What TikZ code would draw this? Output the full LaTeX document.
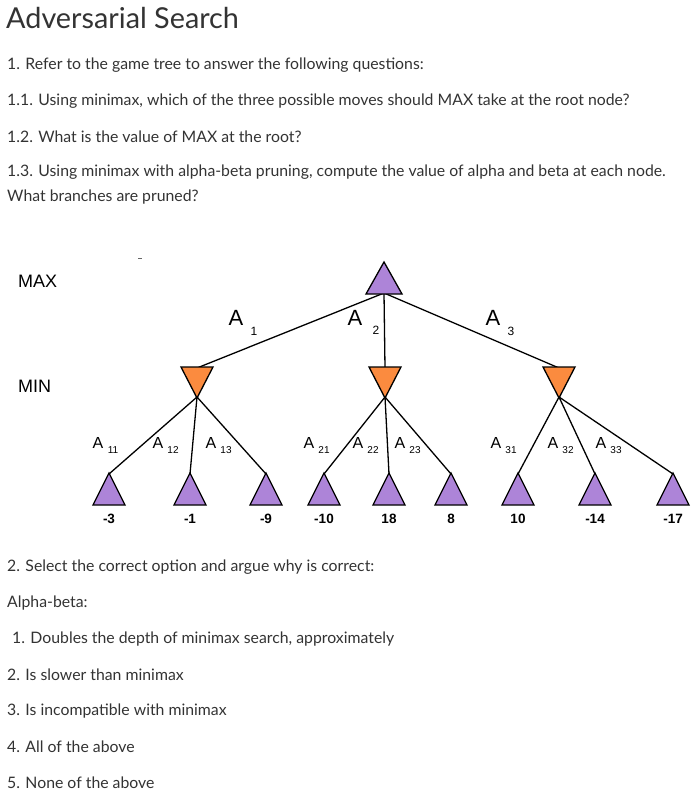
\documentclass[tikz,border=0pt]{standalone}
\usepackage{fontspec}
\setmainfont{Lato}
\newfontfamily\arialf{Liberation Sans}
\begin{document}
\begin{tikzpicture}[x=1pt,y=-1pt,
  txt/.style={anchor=west,inner sep=0,font=\fontsize{15.8}{15.8}\selectfont,text=black!80},
  lab/.style={inner sep=0,font=\arialf\fontsize{22}{22}\selectfont},
  sub/.style={inner sep=0,font=\arialf\fontsize{12}{12}\selectfont},
  val/.style={inner sep=0,font=\arialf\bfseries\fontsize{13.5}{13.5}\selectfont},
  edge/.style={line width=1.3pt}]
\definecolor{purp}{HTML}{AD84D8}
\definecolor{oran}{HTML}{FB8B3F}
\useasboundingbox (0,0) rectangle (698,797);
\node[anchor=west,inner sep=0,font=\fontsize{28.8}{28.8}\selectfont,text=black!80] (title) at (6,18) {Adversarial Search};
\node[txt] (q1) at (7,65) {1. Refer to the game tree to answer the following questions:};
\node[txt] (q11) at (7,101) {1.1. Using minimax, which of the three possible moves should MAX take at the root node?};
\node[txt] (q12) at (7,137) {1.2. What is the value of MAX at the root?};
\node[txt] (q13) at (7,172) {1.3. Using minimax with alpha-beta pruning, compute the value of alpha and beta at each node.};
\node[txt] (q13b) at (7,197) {What branches are pruned?};
\node[txt] (q2) at (7,567) {2. Select the correct option and argue why is correct:};
\node[txt] (ab) at (7,603) {Alpha-beta:};
\node[txt] (o1) at (12,639) {1. Doubles the depth of minimax search, approximately};
\node[txt] (o2) at (7,675) {2. Is slower than minimax};
\node[txt] (o3) at (7,711) {3. Is incompatible with minimax};
\node[txt] (o4) at (7,747) {4. All of the above};
\node[txt] (o5) at (7,783) {5. None of the above};
% tree
\draw[line width=0.6pt,black!60] (138,258) -- (142,258);
\node[anchor=west,inner sep=0,font=\arialf\fontsize{18}{18}\selectfont] (max) at (18,281) {MAX};
\node[anchor=west,inner sep=0,font=\arialf\fontsize{18}{18}\selectfont] (min) at (18,386) {MIN};
\coordinate (r) at (384,293);
\foreach \n/\x in {1/197,2/385,3/559}{
  \coordinate (m\n) at (\x,368);
  \coordinate (ma\n) at (\x,397);
}
\foreach \n/\x in {11/109,12/190,13/266,21/324,22/389,23/451,31/518,32/595,33/673}{
  \coordinate (l\n) at (\x,474);
}
\foreach \n in {1,2,3}{\draw[edge] (r) -- (m\n);}
\foreach \n/\a in {11/1,12/1,13/1,21/2,22/2,23/2,31/3,32/3,33/3}{\draw[edge] (ma\a) -- (l\n);}
\filldraw[fill=purp,draw=black,line width=1.3pt] (384,262) -- (402,294) -- (366,294) -- cycle;
\foreach \n/\x in {1/197,2/385,3/559}{
  \filldraw[fill=oran,draw=black,line width=1.3pt] (\x-16,367) -- (\x+16,367) -- (\x,398) -- cycle;
}
\foreach \n/\x/\v in {11/109/-3,12/190/-1,13/266/-9,21/324/-10,22/389/18,23/451/8,31/518/10,32/595/-14,33/673/-17}{
  \filldraw[fill=purp,draw=black,line width=1.3pt] (\x,473) -- (\x+16,505) -- (\x-16,505) -- cycle;
  \node[val] (v\n) at (\x,519) {\v};
}
\node[lab] (A1) at (236,318) {A}; \node[sub] at (254,331) {1};
\node[lab] (A2) at (355,318) {A}; \node[sub] at (376,330) {2};
\node[lab] (A3) at (493,318) {A}; \node[sub] at (511,331) {3};
\foreach \n/\x in {11/98,12/158,13/211,21/309,22/358,23/400,31/496,32/553,33/601}{
  \node[inner sep=0,font=\arialf\fontsize{16}{16}\selectfont] at (\x,443) {A};
  \node[inner sep=0,font=\arialf\fontsize{10}{10}\selectfont] at (\x+15,450) {\n};
}
\end{tikzpicture}
\end{document}
